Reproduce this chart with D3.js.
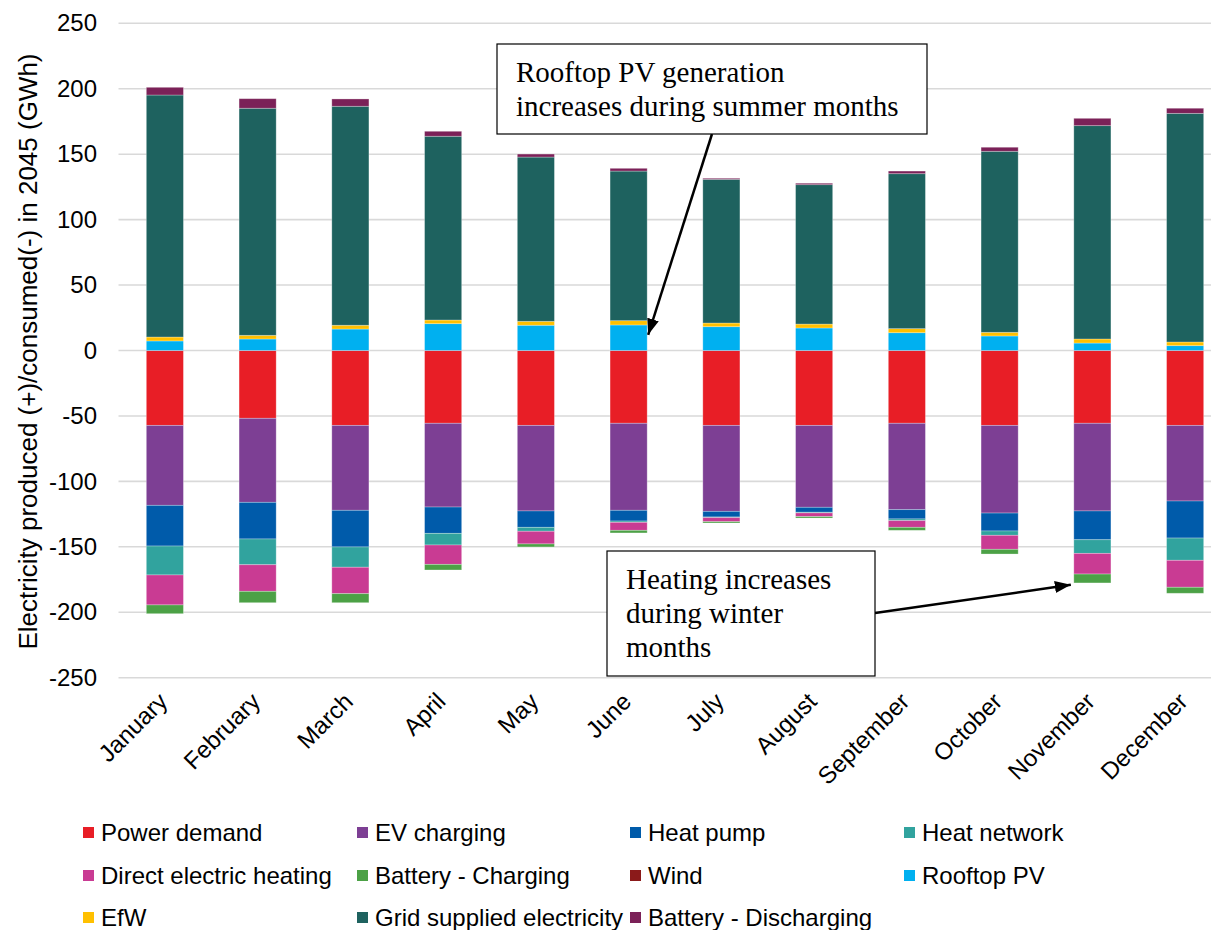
<!DOCTYPE html>
<html>
<head>
<meta charset="utf-8">
<script src="https://cdn.jsdelivr.net/npm/d3@7"></script>
<style>
  body { margin: 0; background: #fff; }
  svg { display: block; }
</style>
</head>
<body>
<script>
    // months and series (GWh, + produced / - consumed)
    const months = ['January', 'February', 'March', 'April', 'May', 'June',
        'July', 'August', 'September', 'October', 'November', 'December'];

    const powerDemand     = [-57.2, -51.8, -57.2, -55.6, -57.2, -55.6, -57.2, -57.2, -55.6, -57.2, -55.6, -57.2];
    const evCharging      = [-61.1, -64.2, -64.9, -64.0, -65.4, -66.5, -65.7, -62.6, -66.0, -67.0, -67.0, -57.8];
    const heatPump        = [-31.1, -28.0, -28.0, -20.1, -12.5, -8.2, -4.3, -3.8, -7.1, -13.7, -22.0, -28.3];
    const heatNetwork     = [-22.1, -19.7, -15.5, -8.9, -3.0, -1.0, -0.5, -0.5, -1.3, -3.3, -10.4, -17.0];
    const directHeating   = [-22.9, -20.3, -20.2, -14.8, -9.7, -6.1, -3.1, -2.8, -5.1, -10.7, -15.8, -20.6];
    const batteryCharging = [-6.7, -8.7, -6.9, -4.3, -2.3, -2.0, -1.0, -1.1, -2.3, -3.6, -6.8, -4.6];
    const wind            = [0, 0, 0, 0, 0, 0, 0, 0, 0, 0, 0, 0];
    const rooftopPV       = [7.3, 8.8, 16.4, 20.5, 19.3, 19.5, 18.2, 17.2, 13.6, 11.1, 5.7, 3.7];
    const efw             = [3.0, 2.8, 2.9, 2.8, 3.0, 3.3, 2.8, 3.0, 3.1, 2.8, 3.1, 2.8];
    const gridSupplied    = [184.9, 173.5, 167.3, 140.4, 125.5, 114.3, 109.8, 106.5, 118.4, 138.3, 163.0, 174.7];
    const batteryDischarg = [5.9, 7.3, 5.6, 3.8, 2.3, 2.1, 0.8, 1.1, 2.0, 3.1, 5.6, 3.9];

    const yTicks = [250, 200, 150, 100, 50, 0, -50, -100, -150, -200, -250];

    const seriesNames = ['Power demand', 'EV charging', 'Heat pump', 'Heat network',
        'Direct electric heating', 'Battery - Charging', 'Wind', 'Rooftop PV',
        'EfW', 'Grid supplied electricity', 'Battery - Discharging'];
    const seriesValues = [powerDemand, evCharging, heatPump, heatNetwork, directHeating,
        batteryCharging, wind, rooftopPV, efw, gridSupplied, batteryDischarg];
    const colors = ['#e81e26', '#7d3f94', '#005baa', '#31a39e', '#c93b93', '#4ca146',
        '#8b1a1a', '#00b0f0', '#ffc000', '#1e625f', '#7b2158'];

    const measurements = {
        width: 1211,
        height: 930,
        left: 118.5,
        right: 1231.5,
        top: 23.3,
        bottom: 677.7
    };
    const fontSize = 24;

    // one row per month for d3.stack
    const table = months.map(function(m, i) {
        let row = { month: m };
        seriesNames.forEach(function(s, j) { row[s] = seriesValues[j][i]; });
        return row;
    });

    const svg = d3.select('body')
        .append('svg')
        .attr('width', measurements.width)
        .attr('height', measurements.height)
        .style('font-family', '"Liberation Sans", Arial, sans-serif');

    const x = d3.scaleBand()
        .domain(months)
        .range([measurements.left, measurements.right])
        .paddingInner(0.6)
        .paddingOuter(0.3);

    const y = d3.scaleLinear()
        .domain([-250, 250])
        .range([measurements.bottom, measurements.top]);

    // gridlines
    svg.append('g')
        .selectAll('line')
        .data(yTicks)
        .enter()
        .append('line')
        .attr('x1', measurements.left)
        .attr('x2', measurements.width)
        .attr('y1', d => y(d))
        .attr('y2', d => y(d))
        .attr('stroke', '#d9d9d9')
        .attr('stroke-width', 1.6);

    // y axis labels (plain hyphen for negatives, like the original)
    const yAxis = d3.axisLeft(y)
        .tickValues(yTicks)
        .tickFormat(d => String(d))
        .tickSize(0)
        .tickPadding(0);
    const yg = svg.append('g')
        .attr('transform', 'translate(97,0)')
        .call(yAxis);
    yg.select('.domain').remove();
    yg.selectAll('text')
        .attr('font-size', fontSize)
        .attr('font-family', '"Liberation Sans", Arial, sans-serif')
        .attr('fill', '#000');

    svg.append('text')
        .attr('transform', 'translate(37,' + (y(0) + 1) + ') rotate(-90)')
        .attr('text-anchor', 'middle')
        .attr('font-size', 26)
        .text('Electricity produced (+)/consumed(-) in 2045 (GWh)');

    // stacked bars
    const stack = d3.stack()
        .keys(seriesNames)
        .offset(d3.stackOffsetDiverging);
    const layers = stack(table);

    svg.append('g')
        .selectAll('g')
        .data(layers)
        .enter()
        .append('g')
        .attr('fill', (d, i) => colors[i])
        .selectAll('rect')
        .data(d => d)
        .enter()
        .append('rect')
        .attr('x', d => x(d.data.month))
        .attr('width', x.bandwidth())
        .attr('y', d => y(Math.max(d[0], d[1])))
        .attr('height', d => Math.abs(y(d[0]) - y(d[1])))
        .attr('stroke', '#ffffff')
        .attr('stroke-opacity', 0.35)
        .attr('stroke-width', 0.8);

    // month labels
    const xg = svg.append('g');
    xg.selectAll('text')
        .data(months)
        .enter()
        .append('text')
        .attr('transform', d => 'translate(' + (x(d) + x.bandwidth() / 2 + 4) + ',703) rotate(-45)')
        .attr('text-anchor', 'end')
        .attr('font-size', fontSize)
        .text(d => d);

    // legend
    const legendCols = [83, 357, 630, 904];
    const legendRows = [833, 876, 918];
    const legend = svg.append('g')
        .selectAll('g')
        .data(seriesNames)
        .enter()
        .append('g')
        .attr('transform', (d, i) => 'translate(' + legendCols[i % 4] + ',' + legendRows[Math.floor(i / 4)] + ')');
    legend.append('rect')
        .attr('x', 0)
        .attr('y', -6)
        .attr('width', 11)
        .attr('height', 11)
        .attr('fill', (d, i) => colors[i]);
    legend.append('text')
        .attr('x', 18)
        .attr('dy', '0.35em')
        .attr('font-size', fontSize)
        .text(d => d);

    // annotations
    const defs = svg.append('defs');
    defs.append('marker')
        .attr('id', 'arrow')
        .attr('markerUnits', 'userSpaceOnUse')
        .attr('viewBox', '0 0 16 12')
        .attr('refX', 16)
        .attr('refY', 6)
        .attr('markerWidth', 16)
        .attr('markerHeight', 12)
        .attr('orient', 'auto')
        .append('path')
        .attr('d', 'M0,0L16,6L0,12Z')
        .attr('fill', '#000');

    const notes = svg.append('g')
        .style('font-family', '"Liberation Serif", "Times New Roman", serif');

    notes.append('line')
        .attr('x1', 712).attr('y1', 134)
        .attr('x2', x('June') + x.bandwidth() + 1).attr('y2', y(12))
        .attr('stroke', '#000').attr('stroke-width', 2.5)
        .attr('marker-end', 'url(#arrow)');
    notes.append('rect')
        .attr('x', 497).attr('y', 44)
        .attr('width', 430).attr('height', 90)
        .attr('fill', '#fff').attr('stroke', '#000').attr('stroke-width', 1.2);
    notes.append('text')
        .attr('x', 516).attr('y', 82)
        .attr('font-size', 29)
        .text('Rooftop PV generation');
    notes.append('text')
        .attr('x', 516).attr('y', 116)
        .attr('font-size', 29)
        .text('increases during summer months');

    notes.append('line')
        .attr('x1', 875).attr('y1', 613)
        .attr('x2', x('November') - 3).attr('y2', y(-179))
        .attr('stroke', '#000').attr('stroke-width', 2.5)
        .attr('marker-end', 'url(#arrow)');
    notes.append('rect')
        .attr('x', 607).attr('y', 551)
        .attr('width', 268).attr('height', 125)
        .attr('fill', '#fff').attr('stroke', '#000').attr('stroke-width', 1.2);
    ['Heating increases', 'during winter', 'months'].forEach(function(t, i) {
        notes.append('text')
            .attr('x', 626).attr('y', 589 + i * 34)
            .attr('font-size', 29)
            .text(t);
    });
</script>
</body>
</html>
